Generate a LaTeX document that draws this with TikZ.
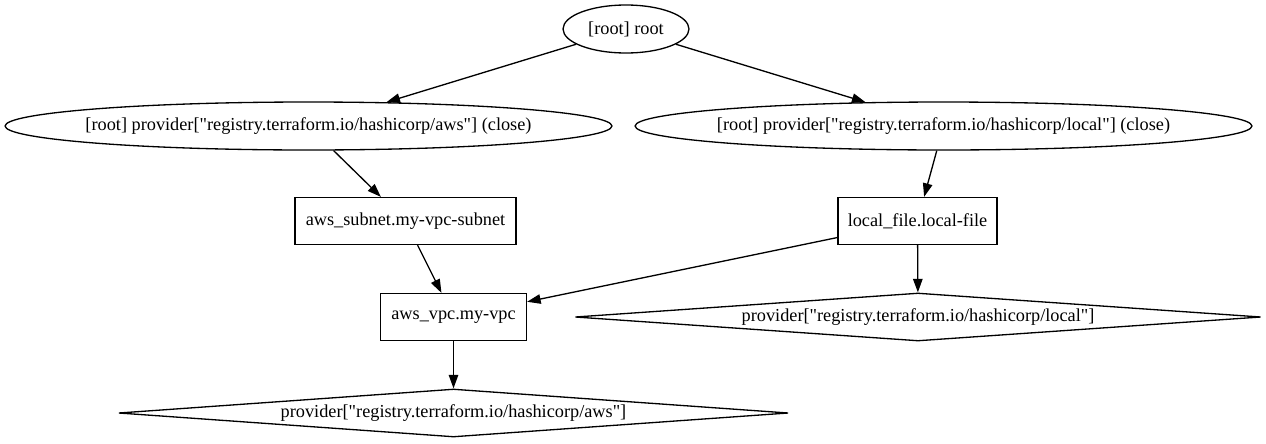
\documentclass[tikz,border=0pt]{standalone}
\usepackage{fontspec}
\setmainfont{Liberation Serif}[Ligatures=TeXOff]
\usetikzlibrary{arrows.meta,shapes.geometric}
\tikzset{
  font={\fontsize{10.4pt}{12}\selectfont}}

\begin{document}
\begin{tikzpicture}[x=0.02cm, y=-0.02cm,
    block_oval/.style ={ellipse, draw=black, line width=0.75pt, fill=white,
      inner sep=0pt, inner xsep=-10pt, minimum height=0.96cm},
    block_box/.style ={rectangle, draw=black, line width=0.75pt, fill=white,
      inner sep=0pt, minimum height=0.94cm},
    block_diam/.style ={diamond, draw=black, line width=0.75pt, fill=white,
      inner sep=0pt, aspect=14, minimum height=0.96cm},
    paths2/.style={black, draw, line width=0.75pt,
      arrows={-Triangle[length=0.27cm, width=0.19cm]}}]
    \useasboundingbox (0,0) rectangle (1266,443);
    % rank 1
    \node[block_oval, minimum width=2.52cm] (r0) at (626,29) {[root] root};
    % rank 2
    \node[block_oval, minimum width=12.14cm] (p1) at (308.5,126)
      {[root] provider["registry.terraform.io/hashicorp/aws"] (close)};
    \node[block_oval, minimum width=12.34cm] (p2) at (943.5,126)
      {[root] provider["registry.terraform.io/hashicorp/local"] (close)};
    % rank 3
    \node[block_box, minimum width=4.42cm] (b1) at (405.5,221) {aws\_subnet.my-vpc-subnet};
    \node[block_box, minimum width=3.18cm] (b2) at (917.5,221) {local\_file.local-file};
    % rank 4
    \node[block_box, minimum width=2.92cm] (b3) at (453.5,317) {aws\_vpc.my-vpc};
    \node[block_diam, minimum width=13.72cm] (d2) at (918,317)
      {provider["registry.terraform.io/hashicorp/local"]};
    % rank 5
    \node[block_diam, minimum width=13.4cm] (d1) at (453.5,413)
      {provider["registry.terraform.io/hashicorp/aws"]};
    % connecting nodes with paths
    \begin{scope}[every path/.style=paths2]
      \path(r0)--(p1);
      \path(r0)--(p2);
      \path(p1)--(b1);
      \path(p2)--(b2);
      \path(b1)--(b3);
      \path(b2)--(b3);
      \path(b2)--(d2);
      \path(b3)--(d1);
    \end{scope}
\end{tikzpicture}
\end{document}
